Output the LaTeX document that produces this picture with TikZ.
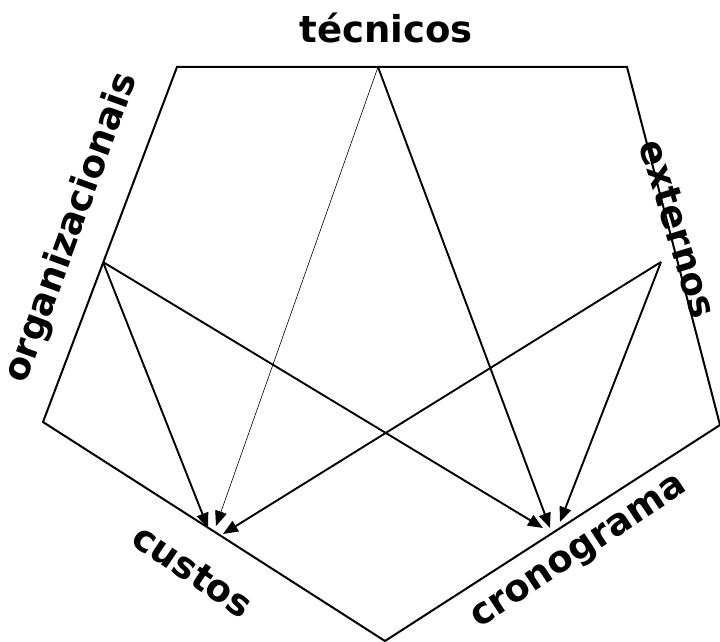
\documentclass[tikz,border=0pt]{standalone}
\usepackage{fontspec}
\setmainfont{DejaVu Sans}
\usetikzlibrary{arrows.meta}
\begin{document}
\begin{tikzpicture}[x=1pt,y=-1pt,
  edge/.style={line width=2pt},
  arr/.style={line width=1.9pt,-{Triangle[length=15pt,width=12pt]}},
  thinarr/.style={line width=0.6pt,-{Triangle[length=15pt,width=12pt]}},
  lbl/.style={font=\fontsize{37}{37}\selectfont\bfseries,inner sep=0pt}]
\useasboundingbox (0,0) rectangle (720,642);
\coordinate (TL) at (177,67);
\coordinate (TR) at (627,67);
\coordinate (R) at (720,425);
\coordinate (B) at (385,641);
\coordinate (L) at (43,422);
\draw[edge,line join=miter] (TL) -- (TR) -- (R) -- (B) -- (L) -- cycle;
\coordinate (tec) at (378,67);
\coordinate (org) at (103,262);
\coordinate (ext) at (661,262);
\coordinate (c1) at (208,528);
\coordinate (c2) at (216,526);
\coordinate (c3) at (223,534);
\coordinate (k1) at (543,528);
\coordinate (k2) at (550,528);
\coordinate (k3) at (560,522);
\draw[arr] (org) -- (c1);
\draw[thinarr] (tec) -- (c2);
\draw[arr] (ext) -- (c3);
\draw[arr] (org) -- (k1);
\draw[arr] (tec) -- (k2);
\draw[arr] (ext) -- (k3);
\node[lbl] (ltec) at (386,28) {técnicos};
\node[lbl,rotate=70] (lorg) at (72,228) {organizacionais};
\node[lbl,rotate=-73] (lext) at (678,229) {externos};
\node[lbl,rotate=-34] (lcus) at (193,571) {custos};
\node[lbl,rotate=33.5] (lcro) at (580,554) {cronograma};
\end{tikzpicture}
\end{document}
